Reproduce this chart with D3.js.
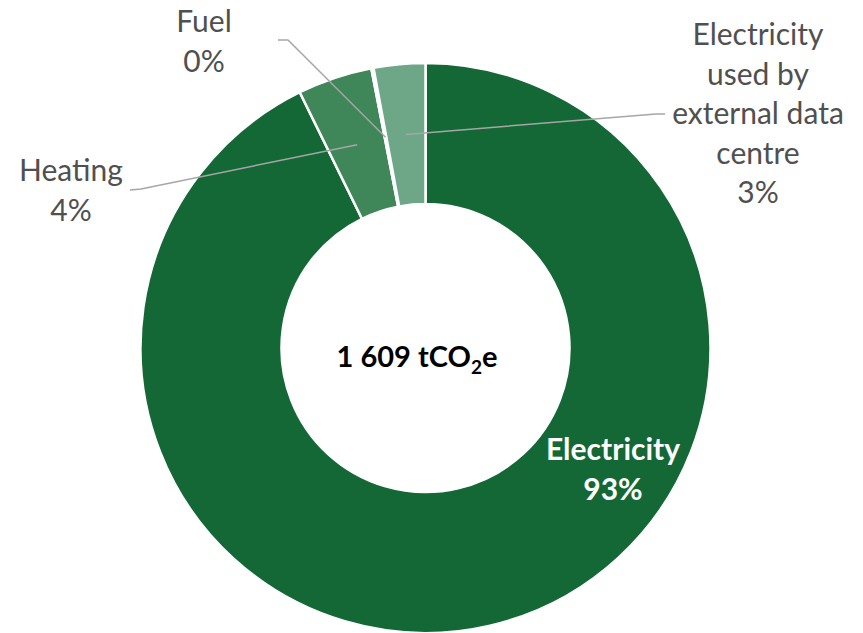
<!DOCTYPE html>
<html>
<head>
<meta charset="utf-8">
<script src="https://cdn.jsdelivr.net/npm/d3@7"></script>
<style>
  html, body { margin: 0; padding: 0; background: #fff; }
  svg { display: block; }
  text { font-family: Lato, "Open Sans", sans-serif; }
</style>
</head>
<body>
<svg id="chart" width="863" height="633"></svg>
<script>
// ---- data ----
const categories = ["Electricity", "Heating", "Fuel", "Electricity used by external data centre"];
const values = [1492, 68, 2, 47];           // tCO2e
const percentLabels = ["93%", "4%", "0%", "3%"];
const labelLines = [["Electricity", "93%"], ["Heating", "4%"], ["Fuel", "0%"],
                    ["Electricity", "used by", "external data", "centre", "3%"]];
const colors = ["#136835", "#3f8759", "#5a9a73", "#6da788"];
const totalLabel = "1 609";

// ---- layout ----
const W = 863, H = 633;
const cx = 425.5, cy = 348;
const outerR = 285, innerR = 144;

const svg = d3.select("#chart");
const g = svg.append("g").attr("transform", `translate(${cx},${cy})`);

const pie = d3.pie().sort(null).value(d => d)(values);
const arc = d3.arc().innerRadius(innerR).outerRadius(outerR);

g.selectAll("path.slice")
  .data(pie)
  .join("path")
  .attr("class", "slice")
  .attr("d", arc)
  .attr("fill", (d, i) => colors[i])
  .attr("stroke", "#fff")
  .attr("stroke-width", 2.5)
  .attr("stroke-linejoin", "miter");

// label anchor positions (absolute), line spacing
const labelPos = [
  { x: 613, y: 460, color: "#ffffff", weight: 700, line: null },
  { x: 71,  y: 181, color: "#505050", weight: 400, line: [[130, 190], [141, 189]] },
  { x: 204, y: 32,  color: "#505050", weight: 400, line: [[278, 40], [288, 40]] },
  { x: 758, y: 45,  color: "#505050", weight: 400, line: [[665, 114], [656, 114]] }
];
const lineH = 39.5;

// leader lines
pie.forEach((d, i) => {
  const lp = labelPos[i];
  if (!lp.line) return;
  const c = arc.centroid(d);
  const end = [cx + c[0], cy + c[1]];
  svg.append("path")
    .attr("d", d3.line()([lp.line[0], lp.line[1], end]))
    .attr("fill", "none")
    .attr("stroke", "#a6a6a6")
    .attr("stroke-width", 1.5);
});

// labels
labelLines.forEach((lines, i) => {
  const lp = labelPos[i];
  const t = svg.append("text")
    .attr("text-anchor", "middle")
    .attr("fill", lp.color)
    .attr("font-weight", lp.weight)
    .attr("font-size", 30);
  lines.forEach((s, k) => {
    t.append("tspan").attr("x", lp.x).attr("y", lp.y + k * lineH).text(s);
  });
});

// centre total
const ct = svg.append("text")
  .attr("text-anchor", "middle")
  .attr("x", 417)
  .attr("y", 367)
  .attr("font-size", 29)
  .attr("font-weight", 700)
  .attr("fill", "#000");
ct.append("tspan").text(totalLabel + " tCO");
ct.append("tspan").attr("font-size", 19).attr("dy", 7).text("2");
ct.append("tspan").attr("dy", -7).text("e");
</script>
</body>
</html>
